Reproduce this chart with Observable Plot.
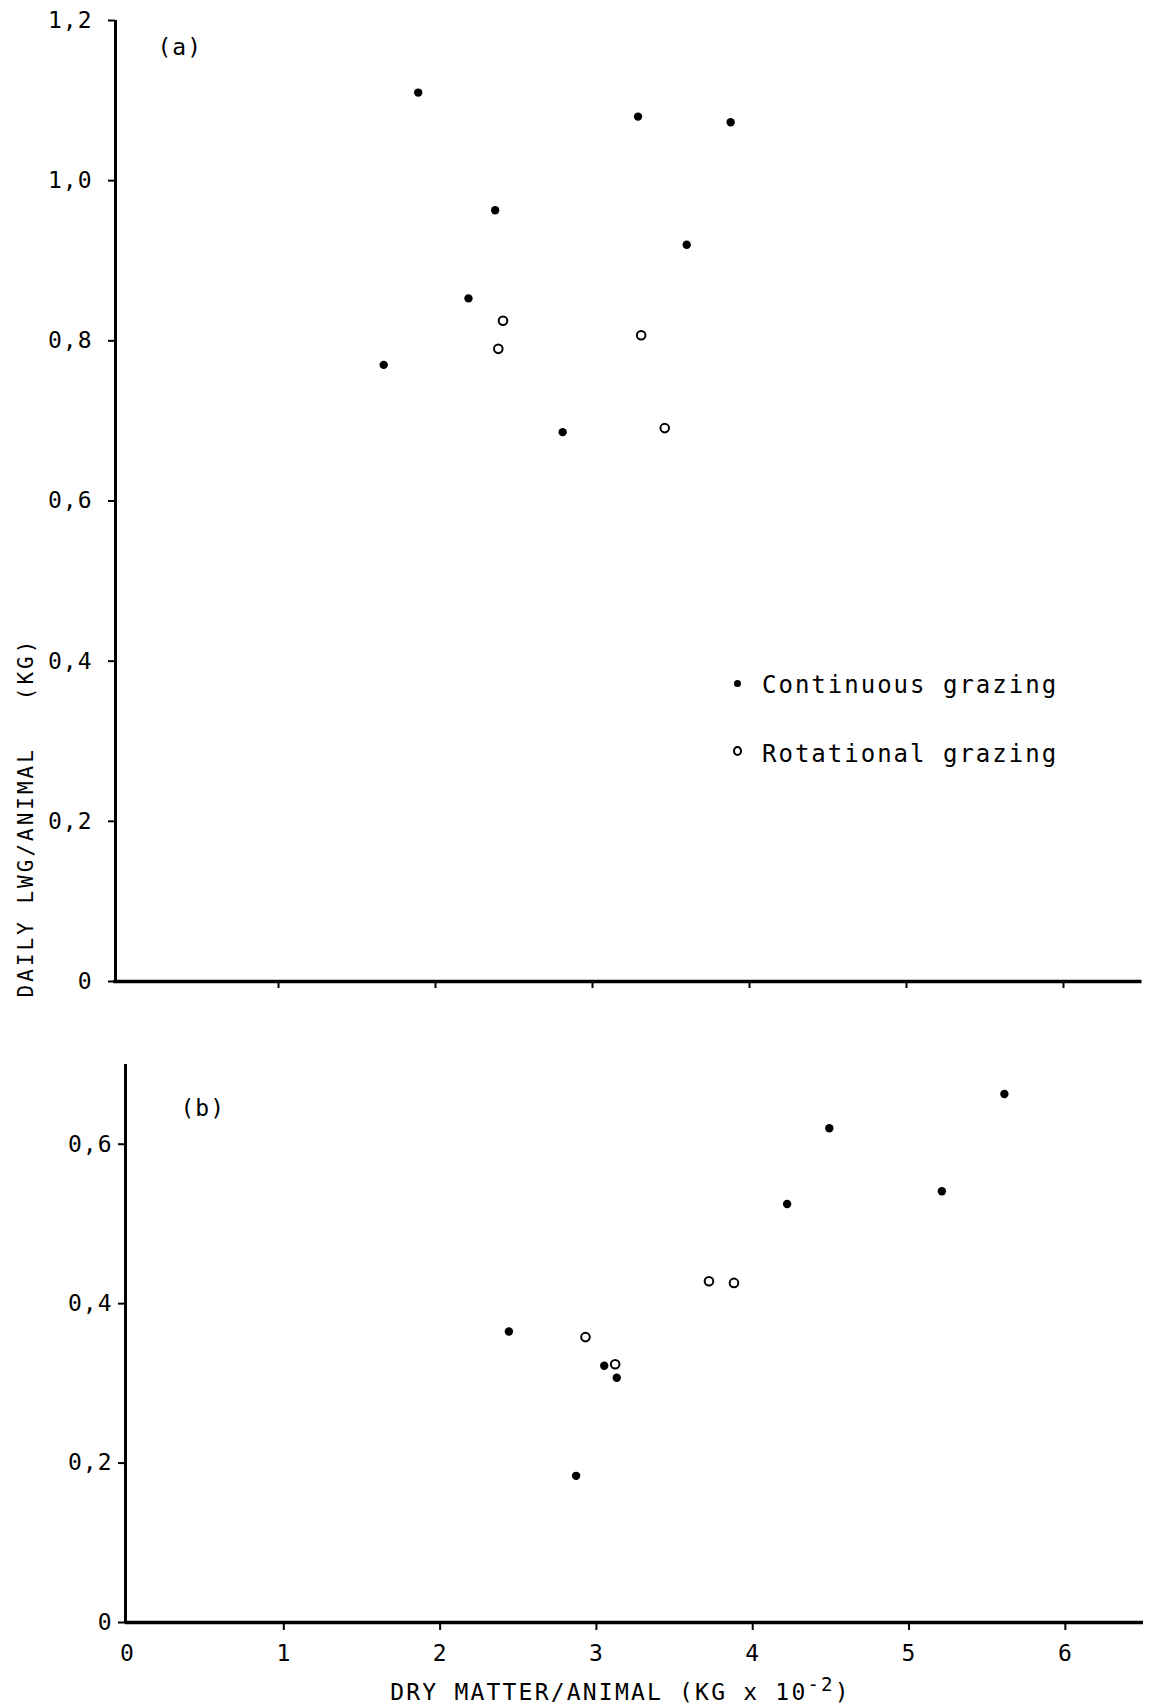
<!DOCTYPE html>
<html>
<head>
<meta charset="utf-8">
<script src="https://cdn.jsdelivr.net/npm/d3@7"></script>
<script src="https://cdn.jsdelivr.net/npm/@observablehq/plot@0.6"></script>
<style>
  html, body { margin: 0; padding: 0; background: white; }
  #wrap { position: relative; width: 1152px; height: 1708px; overflow: hidden; background: white; }
  #wrap svg { display: block; }
  .leg { position: absolute; font-family: 'DejaVu Sans Mono', monospace; font-size: 24px; letter-spacing: 2px; line-height: 24px; white-space: pre; color: black; }
  .sym { position: absolute; border-radius: 50%; box-sizing: border-box; }
</style>
</head>
<body>
<div id="wrap"></div>
<script>
// ---- Data ----
// Panel (a)
const contA_x = [1.89, 3.29, 3.88, 2.38, 3.60, 2.21, 1.67, 2.81];
const contA_y = [1.110, 1.080, 1.073, 0.963, 0.920, 0.853, 0.770, 0.686];
const rotA_x = [2.43, 2.40, 3.31, 3.46];
const rotA_y = [0.825, 0.790, 0.807, 0.691];
// Panel (b)
const contB_x = [5.61, 4.49, 5.21, 4.22, 2.44, 3.05, 3.13, 2.87];
const contB_y = [0.663, 0.620, 0.541, 0.525, 0.365, 0.322, 0.307, 0.184];
const rotB_x = [3.72, 3.88, 2.93, 3.12];
const rotB_y = [0.428, 0.426, 0.358, 0.324];
// Ticks & labels
const yTicksA = [0, 0.2, 0.4, 0.6, 0.8, 1.0, 1.2];
const yTicksB = [0, 0.2, 0.4, 0.6];
const xTicks = [1, 2, 3, 4, 5, 6];
const xLabels = [0, 1, 2, 3, 4, 5, 6];
const seriesNames = ["Continuous grazing", "Rotational grazing"];
const yLabel = "DAILY LWG/ANIMAL\u00a0\u00a0\u00a0(KG)";
const xLabel = "DRY MATTER/ANIMAL (KG x 10";

const pts = (xs, ys) => xs.map((x, i) => ({x, y: ys[i]}));
const fmt = d => d === 0 ? "0" : d.toFixed(1).replace(".", ",");
const font = "'DejaVu Sans Mono', monospace";

const plotA = Plot.plot({
  width: 1152, height: 1040,
  marginTop: 20, marginBottom: 59, marginLeft: 121, marginRight: 10.5,
  x: {domain: [0, 6.5]},
  y: {domain: [0, 1.2]},
  style: {fontFamily: font, fontSize: "23px", letterSpacing: "1px", background: "white", color: "black", overflow: "visible"},
  marks: [
    Plot.ruleY([0], {x1: -0.05, x2: 6.5, stroke: "black", strokeWidth: 3.5}),
    Plot.ruleX([0], {y1: 0, y2: 1.2, dx: -6, stroke: "black", strokeWidth: 3}),
    Plot.axisX({ticks: xTicks, tickSize: 7, tickFormat: () => "", label: null, strokeWidth: 2}),
    Plot.axisY({ticks: yTicksA, tickSize: 7, tickPadding: 16, dx: -6, tickFormat: fmt, label: null, strokeWidth: 2, fontSize: 23}),
    Plot.dot(pts(contA_x, contA_y), {x: "x", y: "y", r: 4.2, fill: "black"}),
    Plot.dot(pts(rotA_x, rotA_y), {x: "x", y: "y", r: 4.3, stroke: "black", strokeWidth: 2, fill: "white"}),
    Plot.text(["(a)"], {frameAnchor: "top-left", dx: 36, dy: 27, textAnchor: "start", lineAnchor: "middle", fontSize: 23}),
    Plot.text([yLabel], {frameAnchor: "left", rotate: -90, dx: -95, dy: 316.5, textAnchor: "middle", lineAnchor: "middle", fontSize: 21})
  ]
});

const plotB = Plot.plot({
  width: 1152, height: 668,
  marginTop: 24, marginBottom: 86, marginLeft: 127, marginRight: 9,
  x: {domain: [0, 6.5]},
  y: {domain: [0, 0.7]},
  style: {fontFamily: font, fontSize: "23px", letterSpacing: "1px", background: "white", color: "black", overflow: "visible"},
  marks: [
    Plot.ruleY([0], {x1: -0.015, x2: 6.5, stroke: "black", strokeWidth: 3.5}),
    Plot.ruleX([0], {y1: 0, y2: 0.7, dx: -2, stroke: "black", strokeWidth: 3}),
    Plot.axisX({ticks: xTicks, tickSize: 8, tickFormat: () => "", label: null, strokeWidth: 2}),
    Plot.axisX({ticks: xLabels, tickSize: 0, tickPadding: 22, tickFormat: d => String(d), label: null, fontSize: 23}),
    Plot.axisY({ticks: yTicksB, tickSize: 7, tickPadding: 6, dx: -2, tickFormat: fmt, label: null, strokeWidth: 2, fontSize: 23}),
    Plot.dot(pts(contB_x, contB_y), {x: "x", y: "y", r: 4.2, fill: "black"}),
    Plot.dot(pts(rotB_x, rotB_y), {x: "x", y: "y", r: 4.3, stroke: "black", strokeWidth: 2, fill: "white"}),
    Plot.text(["(b)"], {frameAnchor: "top-left", dx: 53, dy: 44, textAnchor: "start", lineAnchor: "middle", fontSize: 23}),
    Plot.text([xLabel], {frameAnchor: "bottom", dx: -15, dy: 70.5, textAnchor: "middle", lineAnchor: "middle", fontSize: 23})
  ]
});

const wrap = document.getElementById("wrap");
wrap.appendChild(plotA);
wrap.appendChild(plotB);

// Letter spacing for axis titles and superscript on x label
d3.select(plotA).selectAll("text").each(function() {
  if (this.textContent.startsWith("DAILY")) d3.select(this).style("letter-spacing", "3px");
});
d3.select(plotB).selectAll("text").each(function() {
  if (this.textContent === xLabel) {
    const t = d3.select(this).style("letter-spacing", "2.2px");
    t.append("tspan").attr("dy", "-9").attr("font-size", 19).text("-2");
    t.append("tspan").attr("dy", "9").text(")");
  }
});

// Legend
const leg = [
  {name: seriesNames[0], top: 673, symTop: 679.5, filled: true},
  {name: seriesNames[1], top: 742, symTop: 745.5, filled: false}
];
leg.forEach(l => {
  const s = document.createElement("div");
  s.className = "sym";
  if (l.filled) {
    s.style.cssText += `left:733.5px;top:${l.symTop}px;width:7px;height:7px;background:black;`;
  } else {
    s.style.cssText += `left:732.5px;top:${l.symTop}px;width:9px;height:10px;border:2px solid black;background:white;`;
  }
  wrap.appendChild(s);
  const t = document.createElement("div");
  t.className = "leg";
  t.style.left = "762px";
  t.style.top = l.top + "px";
  t.textContent = l.name;
  wrap.appendChild(t);
});
</script>
</body>
</html>
